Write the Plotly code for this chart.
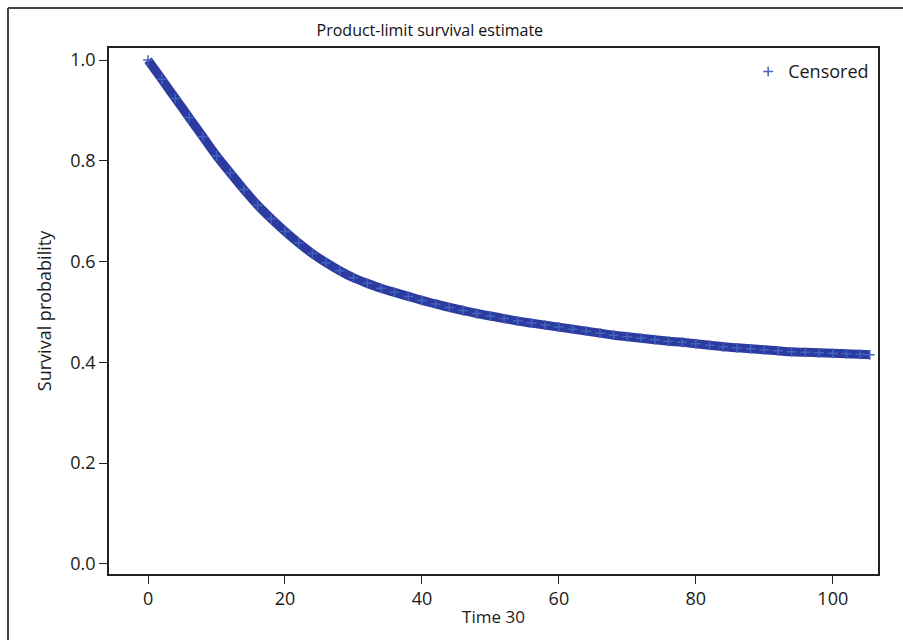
import plotly.graph_objects as go

time = [0, 2, 4, 6, 8, 10, 12, 14, 16, 18, 20, 22, 24, 26, 28, 30, 32, 34, 36, 38,
        40, 42, 44, 46, 48, 50, 52, 54, 56, 58, 60, 62, 64, 66, 68, 70, 72, 74, 76, 78,
        80, 82, 84, 86, 88, 90, 92, 94, 96, 98, 100, 102, 104, 105.4]
survival = [1.0, 0.962, 0.924, 0.886, 0.848, 0.81, 0.776, 0.743, 0.712, 0.685, 0.66,
            0.637, 0.616, 0.598, 0.582, 0.568, 0.557, 0.547, 0.539, 0.531, 0.523, 0.516,
            0.509, 0.503, 0.497, 0.492, 0.487, 0.482, 0.478, 0.474, 0.47, 0.466, 0.462,
            0.458, 0.454, 0.451, 0.448, 0.445, 0.442, 0.44, 0.437, 0.434, 0.431, 0.429,
            0.427, 0.425, 0.423, 0.421, 0.42, 0.419, 0.418, 0.417, 0.416, 0.415]
x_ticks = [0, 20, 40, 60, 80, 100]
y_ticks = [0.0, 0.2, 0.4, 0.6, 0.8, 1.0]

curve_color = "#2b3b9f"
font = "Open Sans"

fig = go.Figure()
fig.add_trace(go.Scatter(x=time, y=survival, mode="lines", showlegend=False,
                         line=dict(color=curve_color, width=9, shape="spline"),
                         hoverinfo="skip"))
fig.add_trace(go.Scatter(x=time, y=survival, mode="markers", name="Censored",
                         marker=dict(symbol="cross-thin", size=7,
                                     line=dict(color="#4463bd", width=1.5))))

# outer frame (top and left edges only; the rest lies outside the picture)
fx0 = (8 - 109) / 769
fx1 = (903 - 109) / 769
fy0 = -(640 - 574) / 526
fy1 = 1 + (48 - 8) / 526
frame_line = dict(color="#444", width=2)

fig.update_layout(
    width=903, height=640,
    margin=dict(l=109, r=25, t=48, b=66),
    paper_bgcolor="white", plot_bgcolor="white",
    font=dict(family=font, size=18, color="#1a1a1a"),
    title=dict(text="Product-limit survival estimate", x=0.476, xanchor="center",
               y=0.953, yanchor="middle", font=dict(size=16, color="#111")),
    xaxis=dict(range=[-5.7, 106.6], tickvals=x_ticks, ticks="outside", ticklen=8,
               tickcolor="#222", tickfont=dict(size=18), showgrid=False,
               zeroline=False, showline=True, automargin=False,
               linecolor="#222", linewidth=1.5, mirror=True,
               title=dict(text="Time 30", standoff=2, font=dict(size=17))),
    yaxis=dict(range=[-0.02, 1.024], tickvals=y_ticks, tickformat=".1f",
               ticks="outside", ticklen=8, tickcolor="#222", tickfont=dict(size=18),
               showgrid=False, automargin=False,
               zeroline=False, showline=True, linecolor="#222", linewidth=1.5,
               mirror=True, title=dict(text="Survival probability", standoff=14,
                                       font=dict(size=18))),
    legend=dict(x=0.995, y=0.99, xanchor="right", yanchor="top",
                bgcolor="rgba(0,0,0,0)", font=dict(size=18)),
    shapes=[dict(type="line", xref="paper", yref="paper", x0=fx0, x1=fx1,
                 y0=fy1, y1=fy1, line=frame_line, layer="below"),
            dict(type="line", xref="paper", yref="paper", x0=fx0, x1=fx0,
                 y0=fy0, y1=fy1, line=frame_line, layer="below")],
)

fig.write_html("out.html", config={"displayModeBar": False},
               post_script="document.body.style.margin='0';document.body.style.padding='0';")
